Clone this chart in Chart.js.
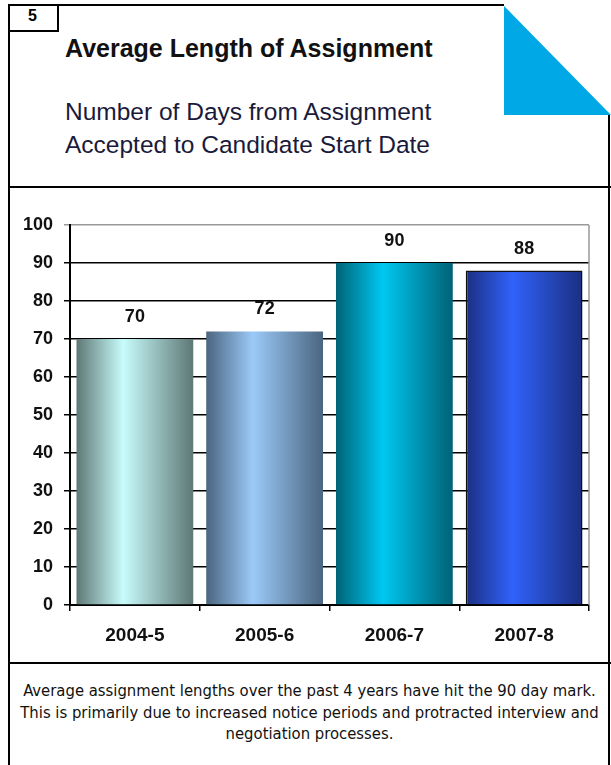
<!DOCTYPE html>
<html>
<head>
<meta charset="utf-8">
<script src="https://cdn.jsdelivr.net/npm/chart.js@4.4.1/dist/chart.umd.min.js"></script>
<style>
  body { margin: 0; background: #fff; width: 611px; height: 765px; position: relative; overflow: hidden; font-family: "Liberation Sans", Arial, sans-serif; }
  .line { position: absolute; background: #000; }
  #num { position: absolute; left: 8px; top: 5px; width: 51px; height: 27px; border-right: 2px solid #000; border-bottom: 2px solid #000; box-sizing: border-box; font-weight: bold; font-size: 16px; text-align: center; line-height: 22px; }
  #title { position: absolute; left: 65px; top: 34px; font-size: 25px; font-weight: bold; color: #111; white-space: nowrap; }
  #sub { position: absolute; left: 65px; top: 95px; font-size: 24.5px; line-height: 33px; color: #1a1a3a; white-space: nowrap; }
  #note { position: absolute; left: 8px; width: 603px; top: 680px; text-align: center; font-family: "DejaVu Sans Condensed", sans-serif; font-size: 16.5px; line-height: 21.5px; color: #111; white-space: nowrap; }
  #tri { position: absolute; left: 0; top: 0; }
  #wrap { position: absolute; left: 8px; top: 190px; width: 600px; height: 470px; }
</style>
</head>
<body>
<svg id="tri" width="611" height="130"><polygon points="504,6 504,115 611,115" fill="#00a8e6"/></svg>
<div class="line" style="left:8px;top:4px;width:2px;height:761px"></div>
<div class="line" style="left:8px;top:4px;width:496px;height:2px"></div>
<div class="line" style="left:608px;top:115px;width:2px;height:650px"></div>
<div class="line" style="left:8px;top:186px;width:603px;height:2px"></div>
<div class="line" style="left:8px;top:662px;width:603px;height:2px"></div>
<div id="num">5</div>
<div id="title">Average Length of Assignment</div>
<div id="sub">Number of Days from Assignment<br>Accepted to Candidate Start Date</div>
<div id="wrap"><canvas id="chart" width="600" height="470"></canvas></div>
<div id="note">Average assignment lengths over the past 4 years have hit the 90 day mark.<br>This is primarily due to increased notice periods and protracted interview and<br>negotiation processes.</div>
<script>
const years = ['2004-5', '2005-6', '2006-7', '2007-8'];
const days = [70, 72, 90, 88];
const edgeColors = ['#5e7875', '#4a6580', '#006276', '#1b2f82'];
const midColors = ['#c8fcfc', '#9ccaf8', '#00c8f2', '#3062fa'];
const barPct = 0.9;

function barGradient(context) {
    const chart = context.chart;
    const i = context.dataIndex;
    const xs = chart.scales.x;
    if (!chart.chartArea || !xs || isNaN(xs.getPixelForValue(i))) return midColors[i];
    const cx = xs.getPixelForValue(i);
    const half = (chart.chartArea.width / years.length) * barPct / 2;
    const g = chart.ctx.createLinearGradient(cx - half, 0, cx + half, 0);
    g.addColorStop(0, edgeColors[i]);
    g.addColorStop(0.4, midColors[i]);
    g.addColorStop(1, edgeColors[i]);
    return g;
}

const frameAndLabels = {
    id: 'frameAndLabels',
    afterDatasetsDraw(chart) {
        const { ctx, chartArea } = chart;
        ctx.save();
        ctx.strokeStyle = '#999';
        ctx.lineWidth = 1.5;
        ctx.beginPath();
        ctx.moveTo(chartArea.right, chartArea.top);
        ctx.lineTo(chartArea.right, chartArea.bottom);
        ctx.stroke();
        ctx.font = 'bold 18px "Liberation Sans", Arial';
        ctx.textAlign = 'center';
        ctx.textBaseline = 'middle';
        chart.getDatasetMeta(0).data.forEach((bar, i) => {
            const t = String(days[i]);
            const y = bar.y - 22;
            const w = ctx.measureText(t).width + 6;
            ctx.fillStyle = '#fff';
            ctx.fillRect(bar.x - w / 2, y - 7, w, 14);
            ctx.fillStyle = '#111';
            ctx.fillText(t, bar.x, y);
        });
        ctx.restore();
    }
};

new Chart(document.getElementById('chart'), {
    type: 'bar',
    data: {
        labels: years,
        datasets: [{
            data: days,
            backgroundColor: barGradient,
            borderColor: ['rgba(0,0,0,0)', 'rgba(0,0,0,0)', 'rgba(0,0,0,0)', '#111'],
            borderWidth: [0, 0, 0, 1.5],
            categoryPercentage: 1,
            barPercentage: barPct
        }]
    },
    options: {
        responsive: false,
        animation: false,
        devicePixelRatio: 1,
        layout: { padding: { top: 35, right: 19, left: 0, bottom: 0 } },
        plugins: { legend: { display: false }, tooltip: { enabled: false } },
        scales: {
            x: {
                afterFit: s => { s.height = 55; },
                grid: { drawOnChartArea: false, color: '#000', tickLength: 6, lineWidth: 1.5 },
                border: { color: '#000', width: 2 },
                ticks: { color: '#111', padding: 13, maxRotation: 0, font: { family: '"Liberation Sans", Arial', size: 19, weight: 'bold' } }
            },
            y: {
                min: 0,
                max: 100,
                afterFit: s => { s.width = 62; },
                grid: {
                    color: c => (c.tick && c.tick.value === 100) ? '#999' : '#000',
                    lineWidth: 1.5,
                    tickLength: 6
                },
                border: { color: '#000', width: 2 },
                ticks: { stepSize: 10, color: '#111', padding: 11, font: { family: '"Liberation Sans", Arial', size: 18, weight: 'bold' } }
            }
        }
    },
    plugins: [frameAndLabels]
});
</script>
</body>
</html>
